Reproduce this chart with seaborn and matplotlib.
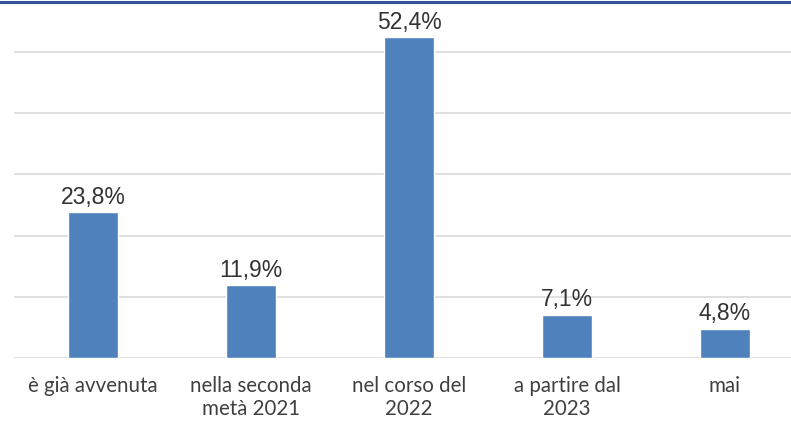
import matplotlib
matplotlib.use("Agg")
import matplotlib.pyplot as plt
import seaborn as sns
import pandas as pd
from matplotlib.lines import Line2D

categories = ["è già avvenuta", "nella seconda\nmetà 2021", "nel corso del\n2022", "a partire dal\n2023", "mai"]
values = [23.8, 11.9, 52.4, 7.1, 4.8]
value_labels = ["23,8%", "11,9%", "52,4%", "7,1%", "4,8%"]

sns.set_theme(style="white")
plt.rcParams['font.family'] = ['Lato', 'DejaVu Sans']

df = pd.DataFrame({"cat": categories, "val": values})

fig = plt.figure(figsize=(7.91, 4.22), dpi=100)
ax = fig.add_axes([14/791, 1 - 358/422, 790/791, 358/422])
sns.barplot(data=df, x="cat", y="val", color="#4F81BD", width=0.316, ax=ax, saturation=1)

ax.set_xlim(-0.5, 4.5)
ax.set_ylim(0, 58.5)
ax.set_yticks([0, 10, 20, 30, 40, 50])
ax.yaxis.grid(True, color="#D9D9D9", linewidth=1.2)
ax.set_axisbelow(True)
for s in ax.spines.values():
    s.set_visible(False)
ax.set_yticklabels([])
ax.tick_params(axis="y", length=0)
ax.tick_params(axis="x", length=0, pad=13, labelsize=14.8, labelcolor="#404040")
ax.set_xlabel("")
ax.set_ylabel("")
for lbl in ax.get_xticklabels():
    lbl.set_linespacing(1.2)

for i, (v, t) in enumerate(zip(values, value_labels)):
    ax.text(i, v + 0.55, t, ha="center", va="bottom", fontsize=16.5,
            family="Liberation Sans", color="#333333")

fig.add_artist(Line2D([0, 1], [1 - 1.5/422, 1 - 1.5/422], color="#2F5597", linewidth=2.2,
                      transform=fig.transFigure))

fig.savefig("out.png", dpi=100)
